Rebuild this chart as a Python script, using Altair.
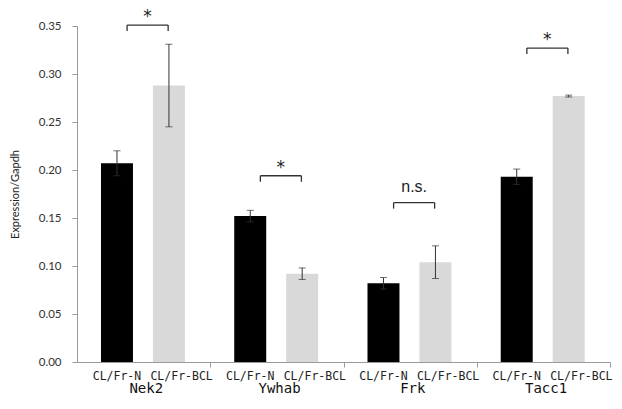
import altair as alt
import pandas as pd

# ---- data ----
genes = ["Nek2", "Ywhab", "Frk", "Tacc1"]
conditions = ["CL/Fr-N", "CL/Fr-BCL"]
n_mean = [0.207, 0.152, 0.082, 0.193]
n_err = [0.013, 0.006, 0.006, 0.008]
bcl_mean = [0.288, 0.092, 0.104, 0.277]
bcl_err = [0.043, 0.006, 0.017, 0.001]
sig_labels = ["*", "*", "n.s.", "*"]
bracket_y = [0.351, 0.194, 0.166, 0.327]
y_ticks = [0.0, 0.05, 0.10, 0.15, 0.20, 0.25, 0.30, 0.35]

# ---- layout (group-relative positions) ----
cond_center = {"CL/Fr-N": 0.30, "CL/Fr-BCL": 0.69}
label_center = {"CL/Fr-N": 0.30, "CL/Fr-BCL": 0.785}
bar_half = 0.12
br_left, br_right = 0.376, 0.684
colors = {"CL/Fr-N": "#000000", "CL/Fr-BCL": "#d9d9d9"}

rows = []
for i, g in enumerate(genes):
    for c, m, e in ((conditions[0], n_mean[i], n_err[i]), (conditions[1], bcl_mean[i], bcl_err[i])):
        xc = i + cond_center[c]
        rows.append(dict(gene=g, cond=c, mean=m, lo=m - e, hi=m + e,
                         xc=xc, x0=xc - bar_half, x1=xc + bar_half,
                         xl=i + label_center[c]))
bars = pd.DataFrame(rows)

br = pd.DataFrame(dict(gene=genes, y=bracket_y, sig=sig_labels,
                       xl=[i + br_left for i in range(len(genes))],
                       xr=[i + br_right for i in range(len(genes))],
                       xm=[i + (br_left + br_right) / 2 for i in range(len(genes))]))
br_ends = pd.concat([br.assign(xe=br.xl), br.assign(xe=br.xr)])
gl = pd.DataFrame(dict(gene=genes, xg=[i + 0.52 for i in range(len(genes))]))

W, H = 533, 336
xs = alt.Scale(domain=[0, 4], nice=False, zero=False)
ys = alt.Scale(domain=[0, 0.35], nice=False)

x_axis = alt.Axis(values=[1, 2, 3, 4], labels=False, title=None, grid=False,
                  domainColor="#999999", tickColor="#999999", tickSize=5, tickWidth=1)
y_axis = alt.Axis(values=y_ticks, format=".2f", title="Expression/Gapdh", grid=False,
                  domainColor="#999999", tickColor="#999999", tickSize=5,
                  labelFont="Lato", labelFontSize=11.5, labelColor="#333333", labelPadding=11,
                  titleFont="Lato", titleFontSize=11, titleFontWeight="normal", titleColor="#222222",
                  titleX=-57, titleY=H / 2)

bar_layer = alt.Chart(bars).mark_rect().encode(
    x=alt.X("x0:Q", scale=xs, axis=x_axis),
    x2="x1:Q",
    y=alt.Y("mean:Q", scale=ys, axis=y_axis),
    y2=alt.datum(0),
    color=alt.Color("cond:N", scale=alt.Scale(domain=conditions, range=[colors[c] for c in conditions]), legend=None),
)

err_rule = alt.Chart(bars).mark_rule(color="#333333", strokeWidth=1).encode(
    x=alt.X("xc:Q", scale=xs), y=alt.Y("lo:Q", scale=ys), y2="hi:Q")
cap_hi = alt.Chart(bars).mark_tick(orient="horizontal", size=7, thickness=1, color="#333333").encode(
    x=alt.X("xc:Q", scale=xs), y=alt.Y("hi:Q", scale=ys))
cap_lo = alt.Chart(bars).mark_tick(orient="horizontal", size=7, thickness=1, color="#333333").encode(
    x=alt.X("xc:Q", scale=xs), y=alt.Y("lo:Q", scale=ys))

br_h = alt.Chart(br).mark_rule(color="#333333", strokeWidth=1.3, clip=False).encode(
    x=alt.X("xl:Q", scale=xs), x2="xr:Q", y=alt.Y("y:Q", scale=ys))
br_v = alt.Chart(br_ends).mark_rule(color="#333333", strokeWidth=1.3, y2Offset=6, clip=False).encode(
    x=alt.X("xe:Q", scale=xs), y=alt.Y("y:Q", scale=ys), y2="y:Q")
star_t = alt.Chart(br).transform_filter(alt.datum.sig == "*").mark_text(
    font="DejaVu Sans", fontSize=17, color="#222222", baseline="alphabetic", dy=-3).encode(
    x=alt.X("xm:Q", scale=xs), y=alt.Y("y:Q", scale=ys), text="sig:N")
ns_t = alt.Chart(br).transform_filter(alt.datum.sig != "*").mark_text(
    font="Liberation Sans", fontSize=16, color="#222222", baseline="alphabetic", dy=-11).encode(
    x=alt.X("xm:Q", scale=xs), y=alt.Y("y:Q", scale=ys), text="sig:N")

cond_t = alt.Chart(bars).mark_text(font="DejaVu Sans Mono", fontSize=11.5, color="#222222",
                                   baseline="middle").encode(
    x=alt.X("xl:Q", scale=xs), y=alt.value(H + 15), text="cond:N")
gene_t = alt.Chart(gl).mark_text(font="DejaVu Sans Mono", fontSize=14, color="#111111",
                                 baseline="middle").encode(
    x=alt.X("xg:Q", scale=xs), y=alt.value(H + 27), text="gene:N")

chart = alt.layer(bar_layer, err_rule, cap_hi, cap_lo, br_h, br_v, star_t, ns_t, cond_t, gene_t).properties(
    width=W, height=H,
    padding={"left": 69, "top": 18, "right": 4, "bottom": 36},
    autosize=alt.AutoSizeParams(type="none"),
).configure_view(stroke=None)

chart.save("out.html", embed_options={"renderer": "svg", "actions": False})
